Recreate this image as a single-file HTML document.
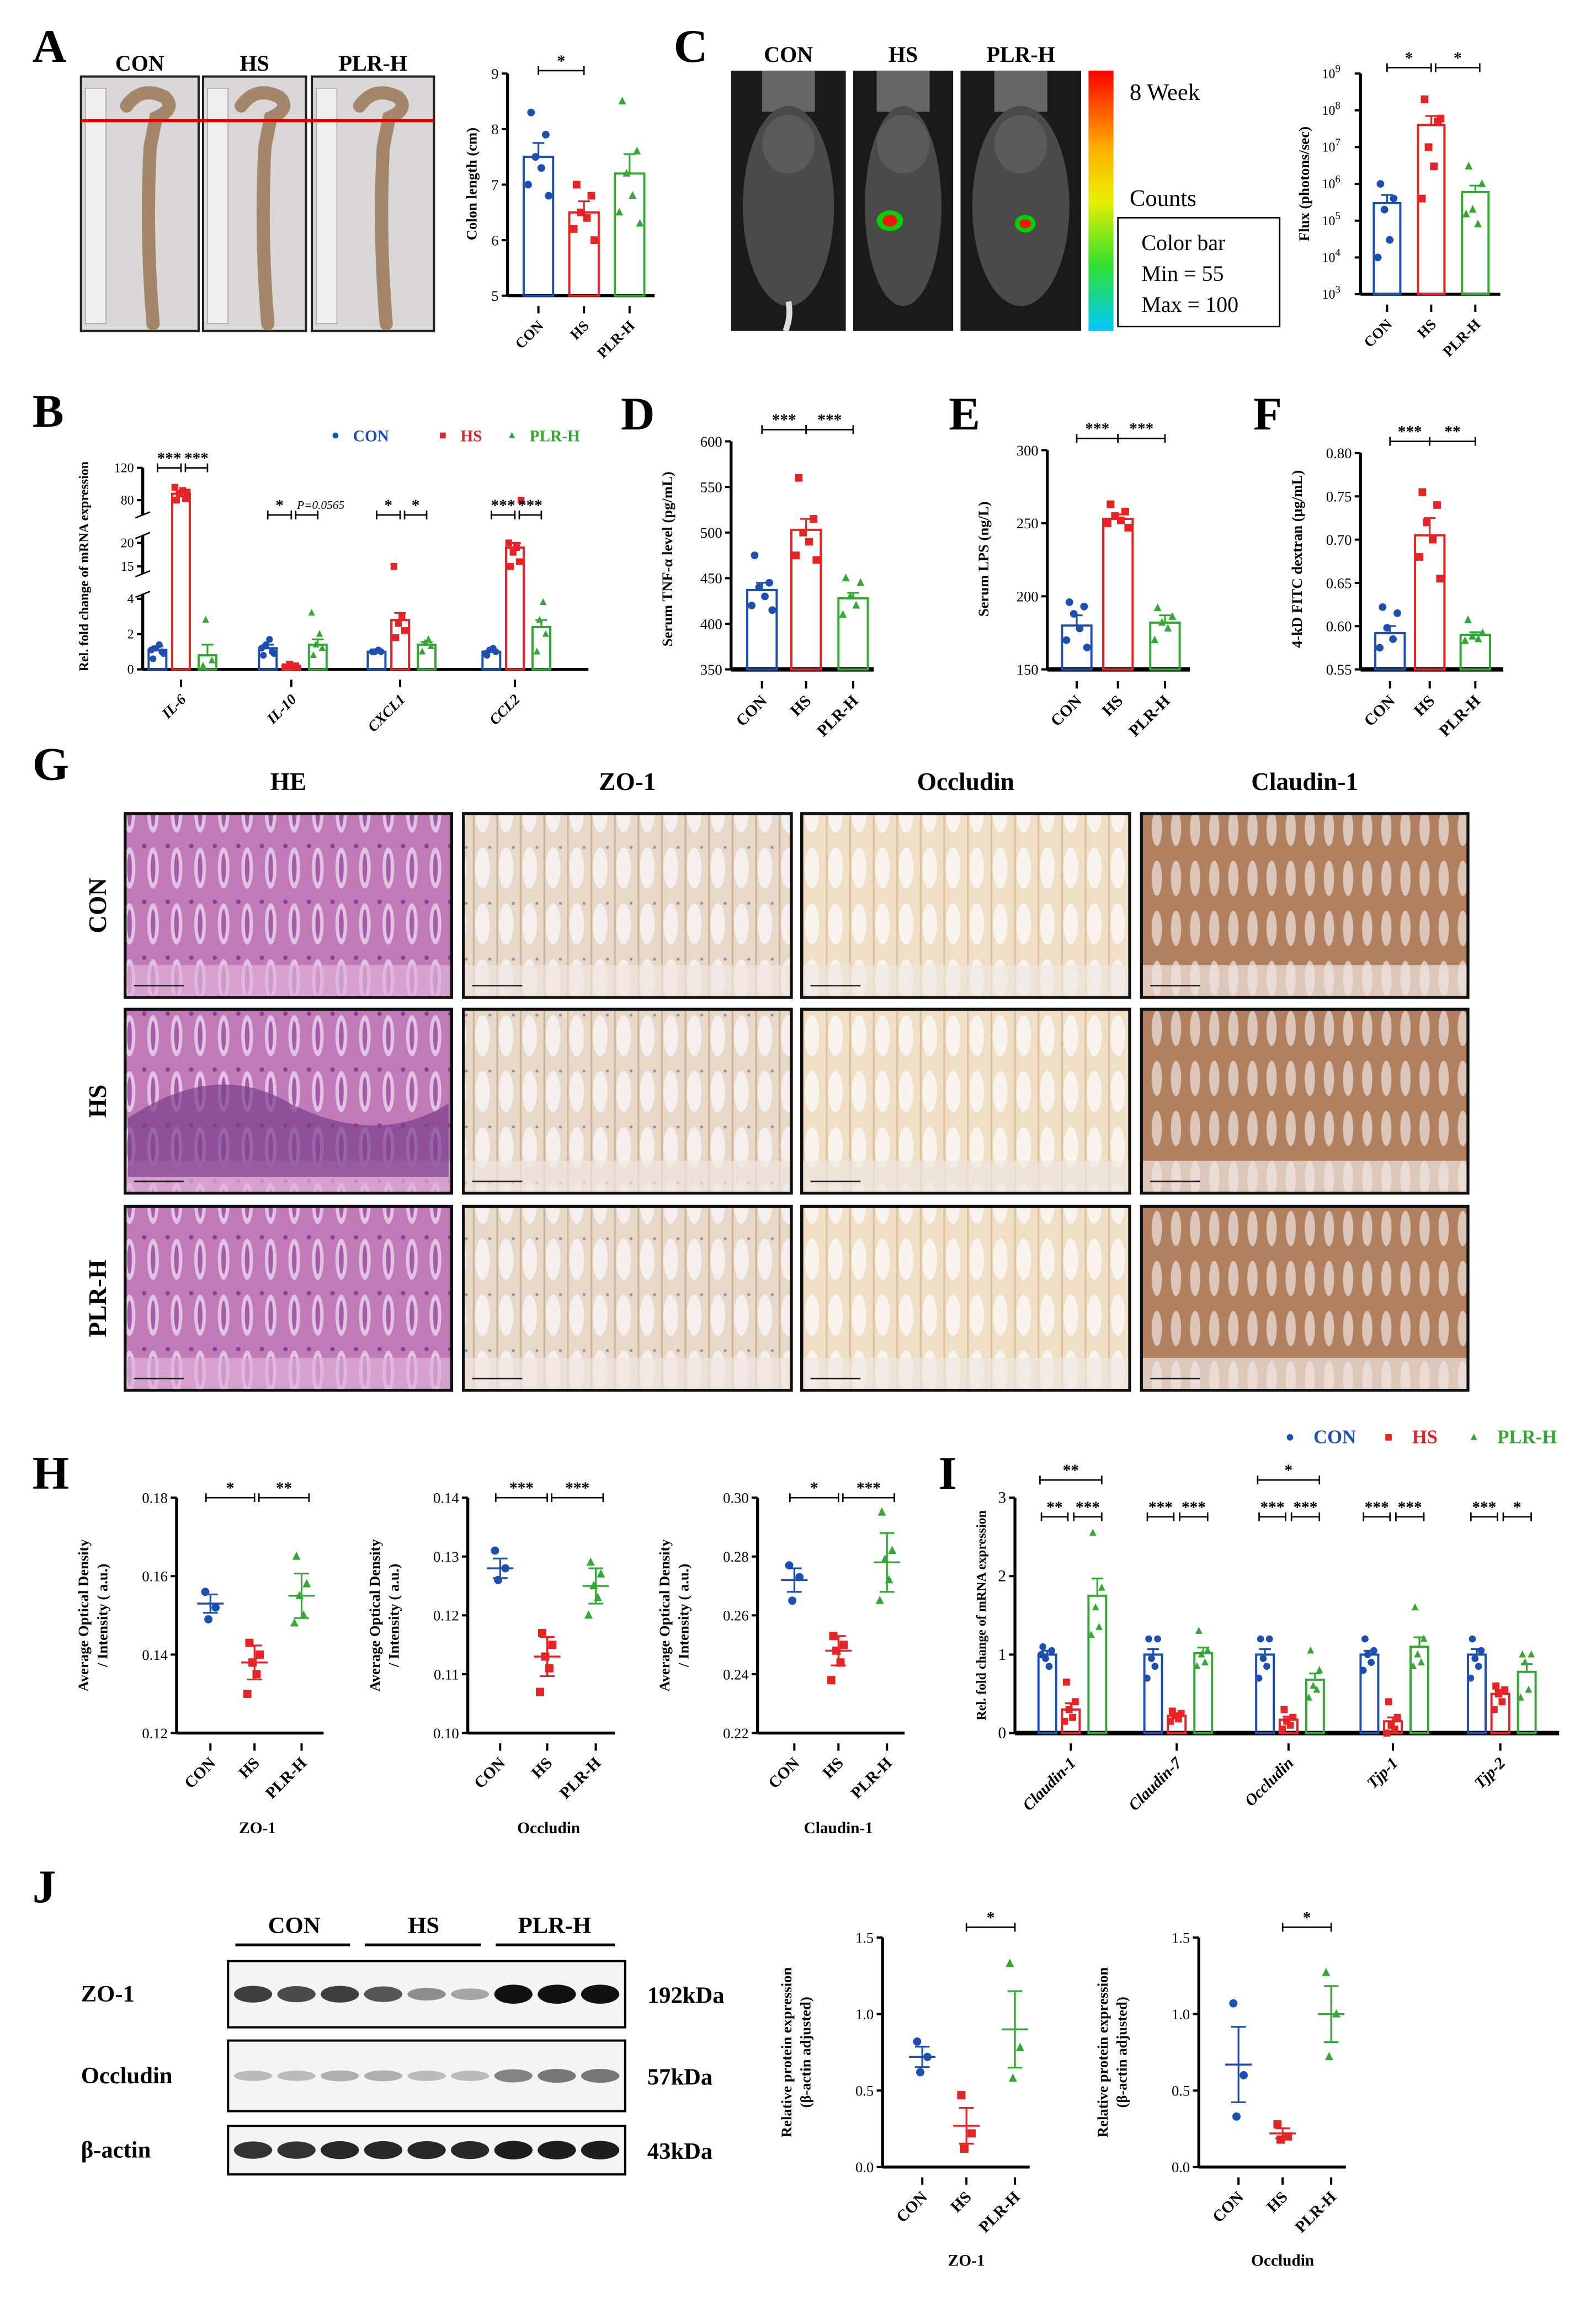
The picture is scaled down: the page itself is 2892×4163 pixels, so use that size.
<!DOCTYPE html>
<html><head><meta charset="utf-8"><style>
html,body{margin:0;padding:0;background:#fff}
svg{display:block}
text{font-family:"Liberation Serif",serif}
</style></head><body>
<svg id="fig" width="2892" height="4163" viewBox="0 0 1085 1562" xmlns="http://www.w3.org/2000/svg">
<defs>
<pattern id="he" width="16" height="38" patternUnits="userSpaceOnUse"><rect width="16" height="38" fill="#c17ab8"/><ellipse cx="8" cy="20" rx="4" ry="14" fill="#e2c2e2"/><ellipse cx="8" cy="20" rx="1.6" ry="10" fill="#a55ca8"/><circle cx="2" cy="5" r="1.5" fill="#8a3f95"/></pattern>
<pattern id="ihcA" width="16" height="38" patternUnits="userSpaceOnUse"><rect width="16" height="38" fill="#e8d8c8"/><ellipse cx="8" cy="20" rx="5" ry="14" fill="#f5efee"/><line x1="2" y1="0" x2="2" y2="38" stroke="#cdb39b" stroke-width="1.2"/><circle cx="13" cy="6" r="1" fill="#9c8ab0"/></pattern>
<pattern id="ihcB" width="16" height="38" patternUnits="userSpaceOnUse"><rect width="16" height="38" fill="#efdfc6"/><ellipse cx="8" cy="20" rx="5" ry="14" fill="#f9f4ee"/><line x1="2" y1="0" x2="2" y2="38" stroke="#dcc09c" stroke-width="1.2"/></pattern>
<pattern id="ihcC" width="13" height="34" patternUnits="userSpaceOnUse"><rect width="13" height="34" fill="#b0805f"/><ellipse cx="6.5" cy="19" rx="3.5" ry="12" fill="#dcc6ba"/></pattern>
<linearGradient id="cbar" x1="0" y1="0" x2="0" y2="1"><stop offset="0" stop-color="#ff0000"/><stop offset="0.3" stop-color="#ffb000"/><stop offset="0.5" stop-color="#e8f000"/><stop offset="0.75" stop-color="#30e030"/><stop offset="1" stop-color="#00c8ff"/></linearGradient>
</defs>
<g id="root"></g>
</svg>
<script>
// ---------- DATA ----------
const groups=['CON','HS','PLR-H'];
const aMeans=[7.5,6.5,7.2], aSem=[0.25,0.2,0.35];
const aPts=[[8.3,7.9,7.5,7.3,7.0,6.8],[7.0,6.8,6.5,6.4,6.2,6.0],[8.5,7.6,7.2,6.8,6.5,6.3]];
const aTicks=[5,6,7,8,9];
const cMeans=[3e5,4e7,6e5], cSem=[2e5,3e7,3e5];
const cPts=[[1e6,4e5,2e5,3e4,1e4],[2e8,5e7,1e7,3e6,4e5,6e7],[3e6,1e6,2e5,8e4,1.5e5]];
const cTicks=[3,4,5,6,7,8,9];
const bGenes=['IL-6','IL-10','CXCL1','CCL2'];
const bMeans=[[1.1,88,0.8],[1.2,0.2,1.4],[1.0,2.8,1.4],[1.0,19,2.4]];
const bSem=[[0.2,4,0.6],[0.2,0.05,0.3],[0.05,0.4,0.15],[0.05,1,0.4]];
const bPts=[[[0.6,1.0,1.2,1.4,1.1,0.9],[75,82,88,92,96,90],[0.2,0.5,2.8]],[[0.8,1.0,1.4,1.7,1.2,0.9],[0.1,0.2,0.3,0.2,0.15],[0.8,1.2,1.4,2.0,3.2]],[[1.0,1.0,1.0,1.1],[1.8,2.2,2.6,3.0,5.8],[1.0,1.3,1.5,1.7]],[[0.8,1.0,1.1,1.2,0.9],[10,16,18,19,20,22],[1.0,2.0,2.8,3.8]]];
const bTicks=[0,2,4,15,20,80,120];
const dMeans=[437,503,428], dSem=[8,12,6];
const dPts=[[475,445,440,430,420,415],[560,515,500,490,475,470],[450,445,430,420,410]];
const dTicks=[350,400,450,500,550,600];
const eMeans=[180,253,182], eSem=[7,3,5];
const ePts=[[196,193,188,178,170,165],[263,258,255,252,250,247],[192,186,182,178,170]];
const eTicks=[150,200,250,300];
const fMeans=[0.592,0.705,0.590], fSem=[0.008,0.02,0.003];
const fPts=[[0.622,0.615,0.598,0.585,0.575],[0.755,0.74,0.72,0.70,0.68,0.655],[0.607,0.592,0.588,0.585,0.583]];
const fTicks=[0.55,0.60,0.65,0.70,0.75,0.80];
const h1Means=[0.153,0.138,0.155], h1Pts=[[0.156,0.152,0.149],[0.143,0.140,0.138,0.135,0.130],[0.165,0.158,0.155,0.150,0.148]];
const h1Ticks=[0.12,0.14,0.16,0.18];
const h2Means=[0.128,0.113,0.125], h2Pts=[[0.131,0.128,0.126],[0.117,0.115,0.113,0.111,0.107],[0.129,0.127,0.125,0.123,0.120]];
const h2Ticks=[0.10,0.11,0.12,0.13,0.14];
const h3Means=[0.272,0.248,0.278], h3Pts=[[0.277,0.273,0.265],[0.253,0.250,0.248,0.244,0.238],[0.295,0.282,0.279,0.272,0.265]];
const h3Ticks=[0.22,0.24,0.26,0.28,0.30];
const iGenes=['Claudin-1','Claudin-7','Occludin','Tjp-1','Tjp-2'];
const iMeans=[[1.0,0.3,1.75],[1.0,0.22,1.02],[1.0,0.17,0.68],[1.0,0.15,1.1],[1.0,0.5,0.78]];
const iSem=[[0.05,0.08,0.22],[0.07,0.02,0.07],[0.07,0.04,0.08],[0.05,0.05,0.12],[0.07,0.05,0.1]];
const iPts=[[[1.1,1.05,0.95,0.85,1.0],[0.65,0.4,0.3,0.2,0.15],[2.55,1.85,1.6,1.35,1.25]],[[1.2,1.2,0.95,0.85,0.7],[0.28,0.25,0.22,0.18,0.15],[1.3,1.05,1.0,0.9,0.85]],[[1.2,1.2,0.95,0.85,0.7],[0.3,0.2,0.15,0.1,0.05],[1.05,0.8,0.6,0.55,0.45]],[[1.2,1.05,1.0,0.9,0.8],[0.4,0.2,0.1,0.05,0.0],[1.6,1.2,1.0,0.9,0.85]],[[1.2,1.05,0.95,0.85,0.7],[0.6,0.55,0.5,0.4,0.3],[1.0,1.0,0.9,0.55,0.45]]];
const iTicks=[0,1,2,3];
const j1Means=[0.72,0.27,0.9], j1Pts=[[0.82,0.72,0.62],[0.47,0.22,0.12],[1.33,0.78,0.58]];
const j2Means=[0.67,0.22,1.0], j2Pts=[[1.07,0.6,0.33],[0.28,0.2,0.18],[1.27,1.0,0.72]];
const jTicks=[0,0.5,1.0,1.5];

// ---------- HELPERS ----------
const NS='http://www.w3.org/2000/svg', root=document.getElementById('root');
const COL=['#1d4fb0','#e62325','#33a834'];
function el(tag,at,parent){const e=document.createElementNS(NS,tag);for(const k in at)e.setAttribute(k,at[k]);(parent||root).appendChild(e);return e;}
function txt(s,x,y,at,parent){const t=el('text',Object.assign({x:x,y:y},at||{}),parent);t.textContent=s;return t;}
function mark(g,x,y,k,s){s=s||2.6;let m;
 if(k===0)m=el('circle',{cx:x,cy:y,r:s,fill:COL[0]},g);
 else if(k===1)m=el('rect',{x:x-s,y:y-s,width:2*s,height:2*s,fill:COL[1]},g);
 else m=el('polygon',{points:`${x},${y-s*1.2} ${x-s},${y+s*0.8} ${x+s},${y+s*0.8}`,fill:COL[2]},g);
 
 return m;}
const JIT=[-5,5,-2,2,-7,7,0];
function axisY(g,ax,ticks,fy,fmt,fs){el('line',{x1:ax,y1:fy(ticks[ticks.length-1]),x2:ax,y2:fy(ticks[0]),stroke:'#000','stroke-width':2},g);
 ticks.forEach(t=>{el('line',{x1:ax-4,y1:fy(t),x2:ax,y2:fy(t),stroke:'#000','stroke-width':1.5},g);
  const l=txt(fmt?fmt(t):String(t),ax-6,fy(t)+3.5,{'font-size':fs||10,'text-anchor':'end'},g);
  
  });}
function xLabels(g,xs,labels,y,ital,fs){labels.forEach((s,i)=>{el('line',{x1:xs[i],y1:y-10,x2:xs[i],y2:y-5,stroke:'#000','stroke-width':1.5},g);
 const t=txt(s,xs[i]+4,y+4,{'font-size':fs||11,'font-weight':'bold','text-anchor':'end','font-style':ital?'italic':'normal',transform:`rotate(-45 ${xs[i]+4} ${y+4})`},g);
 
 });}
function sig(g,x1,x2,y,s){el('line',{x1:x1,y1:y,x2:x2,y2:y,stroke:'#000','stroke-width':1},g);
 el('line',{x1:x1,y1:y-3,x2:x1,y2:y+3,stroke:'#000','stroke-width':1},g);el('line',{x1:x2,y1:y-3,x2:x2,y2:y+3,stroke:'#000','stroke-width':1},g);
 const t=txt(s,(x1+x2)/2,y-3,{'font-size':11,'font-weight':'bold','text-anchor':'middle'},g);
 
 }
function ytitle(g,s,x,y,fs){const t=txt(s,x,y,{'font-size':fs||10,'font-weight':'bold','text-anchor':'middle',transform:`rotate(-90 ${x} ${y})`},g);
 
 }
function bars(g,xs,means,sems,pts,fy,base,bw,sizes){means.forEach((m,i)=>{const k=i%3;const y=fy(m);
 const r=el('rect',{x:xs[i]-bw/2,y:y,width:bw,height:Math.max(0,base-y),fill:'none',stroke:COL[k],'stroke-width':1.5},g);
 
 
 if(sems){const s=sems[i];el('line',{x1:xs[i],y1:fy(m+s),x2:xs[i],y2:y,stroke:COL[k],'stroke-width':1.2},g);
  el('line',{x1:xs[i]-4,y1:fy(m+s),x2:xs[i]+4,y2:fy(m+s),stroke:COL[k],'stroke-width':1.2},g);}
 pts[i].forEach((v,j)=>mark(g,xs[i]+JIT[j%JIT.length]*(bw/20),fy(v),k,sizes));});}
function dots(g,xs,means,pts,fy){means.forEach((m,i)=>{const y=fy(m);
 const l=el('line',{x1:xs[i]-9,y1:y,x2:xs[i]+9,y2:y,stroke:COL[i],'stroke-width':1.3},g);
 
 
 const vs=pts[i];const mx=Math.max(...vs),mn=Math.min(...vs);const se=(mx-mn)/3;
 el('line',{x1:xs[i],y1:fy(m+se),x2:xs[i],y2:fy(m-se),stroke:COL[i],'stroke-width':1.2},g);
 el('line',{x1:xs[i]-5,y1:fy(m+se),x2:xs[i]+5,y2:fy(m+se),stroke:COL[i],'stroke-width':1.2},g);
 el('line',{x1:xs[i]-5,y1:fy(m-se),x2:xs[i]+5,y2:fy(m-se),stroke:COL[i],'stroke-width':1.2},g);
 vs.forEach((v,j)=>mark(g,xs[i]+JIT[j%JIT.length]*0.7,fy(v),i,2.8));});}
function lin(min,max,yb,yt){return v=>yb-(v-min)/(max-min)*(yb-yt);}
function panelLetter(s,x,y){const t=txt(s,x,y,{'font-size':32,'font-weight':'bold'});
 
 }
function group(name){const g=el('g',{});return g;}

// ---------- PANEL A ----------
panelLetter('A',22,42);
(function(){const g=group('panel-a-photos');
 const xs=[[55,135],[138,208],[212,295]];
 xs.forEach((p,i)=>{el('rect',{x:p[0],y:52,width:p[1]-p[0],height:173,fill:'#d9d7d8',stroke:'#222','stroke-width':1.5},g);
  el('rect',{x:p[0]+3,y:60,width:14,height:160,fill:'#eeeeee',stroke:'#999','stroke-width':0.5},g);
  const cx=(p[0]+p[1])/2+5;
  el('path',{d:`M${cx-14} 72 q10 -14 26 -6 q8 8 -6 14 l-4 20 q-3 60 2 120`,fill:'none',stroke:'#a4876b','stroke-width':9,'stroke-linecap':'round'},g);
  const t=txt(groups[i],(p[0]+p[1])/2,48,{'font-size':15,'font-weight':'bold','text-anchor':'middle'},g);
  
  });
 el('line',{x1:55,y1:82,x2:295,y2:82,stroke:'#e00000','stroke-width':2},g);
 const c=group('colon-length-chart');const fy=lin(5,9,201,50);const xsA=[366,397,428];
 axisY(c,345,aTicks,fy,null,10);el('line',{x1:345,y1:201,x2:445,y2:201,stroke:'#000','stroke-width':2},c);
 bars(c,xsA,aMeans,aSem,aPts,fy,201,20);xLabels(c,xsA,groups,218,false,10);ytitle(c,'Colon length (cm)',324,125);
 sig(c,366,397,48,'*');})();

// ---------- PANEL C ----------
panelLetter('C',458,42);
(function(){const g=group('panel-c-imaging');
 const xs=[[497,575],[580,648],[653,735]];
 xs.forEach((p,i)=>{el('rect',{x:p[0],y:48,width:p[1]-p[0],height:177,fill:'#1a1a1a'},g);
  const cx=(p[0]+p[1])/2;
  el('rect',{x:cx-18,y:48,width:36,height:28,fill:'#666'},g);
  el('ellipse',{cx:cx,cy:140,rx:(p[1]-p[0])/2-8,ry:68,fill:'#4a4a4a'},g);
  el('ellipse',{cx:cx,cy:98,rx:18,ry:20,fill:'#5a5a5a'},g);
  if(i===0)el('path',{d:`M${cx} 205 q2 10 -2 20`,stroke:'#ddd','stroke-width':4,fill:'none'},g);
  const t=txt(groups[i],cx,42,{'font-size':15,'font-weight':'bold','text-anchor':'middle'},g);
  
  });
 el('ellipse',{cx:605,cy:150,rx:9,ry:7,fill:'#00d000'},g);el('ellipse',{cx:605,cy:150,rx:5,ry:4,fill:'#ff1010'},g);
 el('ellipse',{cx:697,cy:152,rx:7,ry:6,fill:'#00d000'},g);el('ellipse',{cx:697,cy:152,rx:4,ry:3,fill:'#ff1010'},g);
 const cb=el('rect',{x:740,y:48,width:17,height:177,fill:'url(#cbar)'},g);
 txt('8 Week',768,68,{'font-size':16},g);txt('Counts',768,140,{'font-size':16},g);
 el('rect',{x:760,y:148,width:110,height:74,fill:'#fff',stroke:'#000','stroke-width':1},g);
 txt('Color bar',776,170,{'font-size':15},g);txt('Min = 55',776,191,{'font-size':15},g);txt('Max = 100',776,212,{'font-size':15},g);
 const c=group('flux-chart');const fy=v=>200-(Math.log10(v)-3)/6*150;const xsC=[943,973,1003];
 el('line',{x1:925,y1:50,x2:925,y2:200,stroke:'#000','stroke-width':2},c);el('line',{x1:925,y1:200,x2:1020,y2:200,stroke:'#000','stroke-width':2},c);
 cTicks.forEach(t=>{const y=200-(t-3)*25;el('line',{x1:921,y1:y,x2:925,y2:y,stroke:'#000','stroke-width':1.5},c);
  const l=txt('10',905,y+3,{'font-size':9,'text-anchor':'middle'},c);const s=el('tspan',{dy:-4,'font-size':7},l);s.textContent=t;
  
  });
 bars(c,xsC,cMeans,cSem,cPts,fy,200,18);xLabels(c,xsC,groups,217,false,10);ytitle(c,'Flux (photons/sec)',890,125);
 sig(c,943,973,46,'*');sig(c,976,1006,46,'*');})();

// ---------- PANEL B ----------
panelLetter('B',22,290);
(function(){const c=group('panel-b-cytokine-chart');
 const fy=v=>v<=4?455-v/4*48:(v<=20?(v<15?385:385-(v-15)/5*16):(v<80?340:340-(v-80)/40*22));
 el('line',{x1:97,y1:318,x2:97,y2:455,stroke:'#000','stroke-width':2},c);
 el('line',{x1:97,y1:455,x2:400,y2:455,stroke:'#000','stroke-width':2},c);
 [[404,390],[364,350]].forEach(b=>{el('rect',{x:92,y:b[1],width:10,height:b[0]-b[1],fill:'#fff'},c);
  el('line',{x1:92,y1:b[0]+2,x2:102,y2:b[0]-2,stroke:'#000'},c);el('line',{x1:92,y1:b[1]+2,x2:102,y2:b[1]-2,stroke:'#000'},c);});
 bTicks.forEach(t=>{el('line',{x1:93,y1:fy(t),x2:97,y2:fy(t),stroke:'#000','stroke-width':1.5},c);
  const l=txt(String(t),91,fy(t)+3,{'font-size':9,'text-anchor':'end'},c);
  
  });
 const gx=[123,198,272,350];const xs=[],m=[],s=[],p=[];
 bGenes.forEach((gname,gi)=>{[-16,0,18].forEach((o,k)=>{xs.push(gx[gi]+o);m.push(bMeans[gi][k]);s.push(bSem[gi][k]);p.push(bPts[gi][k]);});});
 bars(c,xs,m,s,p,fy,455,12,2.3);
 xLabels(c,gx,bGenes,472,true,10);ytitle(c,'Rel. fold change of mRNA expression',60,385,9);
 sig(c,107,123,318,'***');sig(c,126,141,318,'***');
 sig(c,182,198,350,'*');sig(c,201,216,350,'');txt('P=0.0565',218,346,{'font-size':8,'font-style':'italic','text-anchor':'middle'},c);
 sig(c,256,272,350,'*');sig(c,275,290,350,'*');sig(c,334,350,350,'***');sig(c,353,368,350,'***');
 [['CON',0,240],['HS',1,313],['PLR-H',2,360]].forEach(L=>{mark(c,L[2]-12,296,L[1],2);
  const t=txt(L[0],L[2],300,{'font-size':11,'font-weight':'bold',fill:COL[L[1]]},c);
  
  });})();

// ---------- PANELS D E F ----------
function simplePanel(letter,lx,name,ax,yt,ticks,means,sem,pts,xs,title,fmt,sigs){
 panelLetter(letter,lx,292);const c=group(name);const fy=lin(ticks[0],ticks[ticks.length-1],455,yt);
 axisY(c,ax,ticks,fy,fmt,10);el('line',{x1:ax,y1:455,x2:ax+97,y2:455,stroke:'#000','stroke-width':3},c);
 bars(c,xs,means,sem,pts,fy,455,20);xLabels(c,xs,groups,473,false,11);ytitle(c,title,ax-40,380,10);
 sigs.forEach(q=>sig(c,xs[q[0]],xs[q[1]],yt-8,q[2]));}
simplePanel('D',422,'panel-d-tnf-chart',497,300,dTicks,dMeans,dSem,dPts,[518,548,580],'Serum TNF-α level (pg/mL)',null,[[0,1,'***'],[1,2,'***']]);
simplePanel('E',645,'panel-e-lps-chart',712,306,eTicks,eMeans,eSem,ePts,[732,760,792],'Serum LPS (ng/L)',null,[[0,1,'***'],[1,2,'***']]);
simplePanel('F',852,'panel-f-fitc-chart',925,308,fTicks,fMeans,fSem,fPts,[945,972,1003],'4-kD FITC dextran (μg/mL)',t=>t.toFixed(2),[[0,1,'***'],[1,2,'**']]);

// ---------- PANEL G ----------
panelLetter('G',22,530);
(function(){const g=group('panel-g-histology');
 const cols=[[85,307],[315,538],[545,768],[776,998]],rows=[[553,678],[686,811],[820,945]];
 const heads=['HE','ZO-1','Occludin','Claudin-1'],fills=['url(#he)','url(#ihcA)','url(#ihcB)','url(#ihcC)'];
 heads.forEach((h,i)=>{const t=txt(h,(cols[i][0]+cols[i][1])/2,537,{'font-size':17,'font-weight':'bold','text-anchor':'middle'},g);
  
  });
 ['CON','HS','PLR-H'].forEach((r,ri)=>{const y=(rows[ri][0]+rows[ri][1])/2;
  const t=txt(r,72,y,{'font-size':17,'font-weight':'bold','text-anchor':'middle',transform:`rotate(-90 72 ${y})`},g);
  
  
  cols.forEach((c,ci)=>{const r2=el('rect',{x:c[0],y:rows[ri][0],width:c[1]-c[0],height:rows[ri][1]-rows[ri][0],fill:fills[ci],stroke:'#111','stroke-width':2},g);
   
   
   el('rect',{x:c[0]+1,y:rows[ri][1]-22,width:c[1]-c[0]-2,height:21,fill:ci===0?'#e0b2d8':'#efe6e0',opacity:0.7},g);
   el('line',{x1:c[0]+6,y1:rows[ri][1]-8,x2:c[0]+40,y2:rows[ri][1]-8,stroke:'#222','stroke-width':1},g);});});
 el('path',{d:'M87 760 q60 -40 110 -10 q60 30 108 0 l0 50 l-218 0z',fill:'#7a3f8c',opacity:0.7},g);})();

// ---------- PANEL H ----------
panelLetter('H',22,1012);
function hPanel(name,ax,ticks,means,pts,xs,lab){const c=group(name);const fy=lin(ticks[0],ticks[ticks.length-1],1178,1018);
 axisY(c,ax,ticks,fy,t=>t.toFixed(2),10);el('line',{x1:ax,y1:1178,x2:ax+100,y2:1178,stroke:'#000','stroke-width':2},c);
 dots(c,xs,means,pts,fy);xLabels(c,xs,groups,1195,false,11);
 ytitle(c,'Average Optical Density',ax-60,1098,10);ytitle(c,'/ Intensity ( a.u.)',ax-47,1098,10);
 sig(c,xs[0]-3,xs[1],1018,lab[0]);sig(c,xs[1]+3,xs[2]+5,1018,lab[1]);}
hPanel('h-zo1-chart',120,h1Ticks,h1Means,h1Pts,[143,173,205],['*','**']);
hPanel('h-occludin-chart',318,h2Ticks,h2Means,h2Pts,[340,372,405],['***','***']);
hPanel('h-claudin1-chart',515,h3Ticks,h3Means,h3Pts,[540,570,603],['*','***']);
[['ZO-1',175],['Occludin',373],['Claudin-1',570]].forEach(L=>{const t=txt(L[0],L[1],1246,{'font-size':11,'font-weight':'bold','text-anchor':'middle'});
 
 });

// ---------- PANEL I ----------
panelLetter('I',638,1012);
(function(){const c=group('panel-i-tight-junction-chart');const fy=lin(0,3,1178,1018);
 axisY(c,690,iTicks,fy,null,11);el('line',{x1:690,y1:1178,x2:1060,y2:1178,stroke:'#000','stroke-width':3},c);
 const gx=[728,800,876,947,1020];const xs=[],m=[],s=[],p=[];
 iGenes.forEach((gn,gi)=>{[-16,0,18].forEach((o,k)=>{xs.push(gx[gi]+o);m.push(iMeans[gi][k]);s.push(iSem[gi][k]);p.push(iPts[gi][k]);});});
 bars(c,xs,m,s,p,fy,1178,12,2.4);xLabels(c,gx,iGenes,1195,true,11);ytitle(c,'Rel. fold change of mRNA expression',670,1098,9);
 const lv=['**','***','***','***','***','***','***','***','***','*'];
 gx.forEach((x,gi)=>{sig(c,x-20,x-2,1031,lv[gi*2]);sig(c,x+2,x+21,1031,lv[gi*2+1]);});
 sig(c,707,749,1006,'**');sig(c,855,897,1006,'*');
 [['CON',0,893],['HS',1,960],['PLR-H',2,1018]].forEach(L=>{mark(c,L[2]-16,977,L[1],2.2);
  const t=txt(L[0],L[2],981,{'font-size':13,'font-weight':'bold',fill:COL[L[1]]},c);
  
  });})();

// ---------- PANEL J ----------
panelLetter('J',22,1293);
(function(){const g=group('panel-j-western-blot');
 [['CON',200,160,238],['HS',288,248,327],['PLR-H',377,337,418]].forEach(h=>{txt(h[0],h[1],1314,{'font-size':16,'font-weight':'bold','text-anchor':'middle'},g);
  el('line',{x1:h[2],y1:1322,x2:h[3],y2:1322,stroke:'#000','stroke-width':2},g);});
 const rows=[['ZO-1',1333,1378,'192kDa',[0.8,0.75,0.8,0.7,0.45,0.35,1,1,1]],['Occludin',1387,1435,'57kDa',[0.25,0.25,0.3,0.3,0.25,0.25,0.5,0.55,0.55]],['β-actin',1445,1478,'43kDa',[0.85,0.85,0.9,0.9,0.9,0.9,0.95,0.95,0.95]]];
 rows.forEach(r=>{const rr=el('rect',{x:155,y:r[1],width:270,height:r[2]-r[1],fill:'#f4f4f4',stroke:'#000','stroke-width':1.5},g);
  
  
  const cy=(r[1]+r[2])/2;
  r[4].forEach((a,i)=>el('ellipse',{cx:172+i*29.5,cy:cy,rx:13,ry:2.5+a*4,fill:'#111',opacity:a},g));
  txt(r[0],55,cy+5,{'font-size':16,'font-weight':'bold'},g);txt(r[3],440,cy+6,{'font-size':16,'font-weight':'bold'},g);});
 function jc(name,ax,means,pts,lab){const c=group(name);const fy=lin(0,1.5,1473,1317);const xs=[ax+27,ax+57,ax+90];
  axisY(c,ax,jTicks,fy,t=>t===0?'0.0':t.toFixed(1),10);el('line',{x1:ax,y1:1473,x2:ax+100,y2:1473,stroke:'#000','stroke-width':2},c);
  dots(c,xs,means,pts,fy);xLabels(c,xs,groups,1490,false,11);
  ytitle(c,'Relative protein expression',ax-62,1395,10);ytitle(c,'(β-actin adjusted)',ax-49,1395,10);
  sig(c,xs[1],xs[2],1310,'*');
  const t=txt(lab,ax+57,1540,{'font-size':11,'font-weight':'bold','text-anchor':'middle'},c);
  
  }
 jc('j-zo1-chart',600,j1Means,j1Pts,'ZO-1');jc('j-occludin-chart',815,j2Means,j2Pts,'Occludin');})();
</script>
</body></html>
